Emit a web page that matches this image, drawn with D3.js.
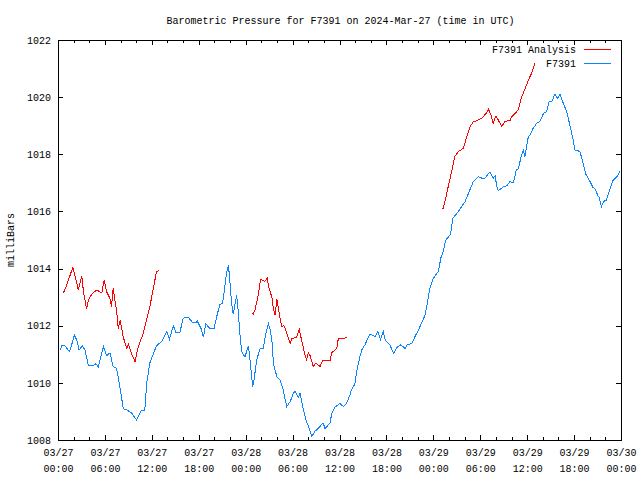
<!DOCTYPE html>
<html>
<head>
<meta charset="utf-8">
<script src="https://cdn.jsdelivr.net/npm/d3@7"></script>
<style>
  body { margin: 0; background: #fff; }
  text { font-family: "Liberation Mono", "DejaVu Sans Mono", monospace; font-size: 10px; fill: #000; }
</style>
</head>
<body>
<div id="chart"></div>
<script>
// hours after 2024-03-27 00:00 UTC, pressure in millibars
const stationHours = [0.25,0.5,0.9,1.3,1.5,2.1,2.4,2.7,3.1,3.45,3.9,4.5,4.85,5.15,5.8,6.2,6.65,7.05,7.5,7.9,
  8.35,8.8,9.4,10.05,10.7,11.1,11.35,11.75,12.6,13.25,13.9,14.25,14.75,15.1,15.6,16.0,16.65,17.25,17.65,17.8,
  18.3,18.6,18.9,19.45,19.95,20.3,20.7,21.05,21.35,21.55,21.8,22.0,22.2,22.4,22.6,22.85,23.05,23.3,23.5,23.9,
  24.35,24.55,24.9,25.05,25.4,25.85,26.25,26.45,26.9,27.1,27.35,27.55,28.0,28.4,28.8,29.25,29.7,30.1,30.3,30.75,
  30.95,31.35,31.7,32.0,32.45,32.85,33.5,33.9,34.15,34.8,35.0,35.4,36.05,36.5,36.9,37.35,37.5,37.95,38.2,38.6,
  38.85,39.25,39.9,40.55,40.9,41.25,41.6,41.85,42.45,42.9,43.3,43.75,44.15,44.4,44.65,45.25,45.65,46.1,46.5,46.95,
  47.3,47.55,48.0,48.65,48.95,49.25,49.6,50.2,50.5,51.2,52.05,52.45,53.1,53.75,54.35,54.6,55.25,55.65,55.9,56.1,
  56.3,56.9,57.4,57.8,58.25,58.6,58.9,59.2,59.5,59.7,60.15,60.4,60.75,61.2,61.6,62.1,62.5,62.8,63.15,63.55,
  63.9,64.2,64.6,65.05,65.45,65.85,66.1,66.75,67.2,67.5,68.05,68.4,68.65,69.05,69.2,69.5,69.8,70.15,70.6,71.0,
  71.45,71.9];
const stationPress = [1011.15,1011.3,1011.3,1011.15,1011.1,1011.67,1011.5,1011.15,1011.3,1011.15,1010.6,1010.6,1010.67,1010.55,1011.27,1010.95,1011.05,1010.57,1010.5,1009.87,
  1009.1,1009.05,1008.95,1008.7,1009.05,1009.05,1010.0,1010.7,1011.3,1011.45,1011.8,1011.52,1012.0,1011.75,1011.78,1012.26,1012.3,1012.1,1012.1,1012.17,
  1011.9,1011.6,1012.06,1011.9,1011.9,1012.32,1012.75,1012.78,1013.4,1013.86,1014.12,1013.5,1012.78,1012.4,1012.7,1013.07,1012.5,1011.6,1011.1,1010.9,
  1011.3,1010.8,1009.87,1010.05,1010.8,1011.2,1011.2,1011.55,1012.08,1011.9,1011.5,1010.68,1010.2,1010.1,1009.75,1009.17,1009.35,1009.63,1009.7,1009.5,
  1009.63,1009.1,1008.7,1008.5,1008.12,1008.3,1008.47,1008.6,1008.4,1008.6,1008.93,1009.15,1009.28,1009.17,1009.28,1009.58,1009.75,1009.95,1010.39,1010.92,
  1011.15,1011.33,1011.71,1011.62,1011.79,1011.52,1011.79,1011.5,1011.33,1011.03,1011.22,1011.33,1011.27,1011.2,1011.33,1011.38,1011.62,1011.85,1012.1,1012.37,
  1012.9,1013.3,1013.66,1013.9,1014.36,1014.6,1015.0,1015.2,1015.76,1016.0,1016.34,1016.6,1017.04,1017.21,1017.15,1017.16,1017.39,1017.15,1017.25,1016.9,
  1016.73,1016.85,1016.9,1017.05,1017.0,1017.45,1017.5,1017.9,1018.15,1017.9,1018.62,1018.68,1018.9,1019.08,1019.15,1019.43,1019.5,1019.85,1019.84,1020.11,
  1019.95,1020.11,1019.8,1019.5,1019.03,1018.55,1018.15,1018.1,1017.63,1017.3,1017.04,1016.85,1016.8,1016.55,1016.5,1016.17,1016.35,1016.4,1016.8,1017.1,
  1017.2,1017.43];

// analysis runs, one per day (null breaks the line)
const analysisHours = [0.7,1.15,1.9,2.3,2.6,3.05,3.25,3.65,3.9,4.3,4.95,5.6,5.9,6.2,6.65,6.85,7.05,7.5,7.7,7.95,
  8.35,8.8,9.0,9.4,9.85,10.25,10.9,11.75,12.6,12.95,null,
  24.75,24.95,25.2,25.6,25.9,26.45,26.75,27.0,27.35,27.55,27.75,28.0,28.25,28.6,28.9,29.25,29.7,29.9,30.5,30.85,
  31.15,31.6,31.8,32.0,32.25,32.65,33.0,33.5,33.9,34.8,35.0,35.65,35.85,36.7,37.0,null,
  49.05,49.25,49.7,49.9,50.35,50.75,51.2,51.85,52.25,52.7,53.1,53.75,54.2,54.8,55.05,55.35,55.65,56.0,56.3,56.75,
  57.15,57.8,58.0,58.45,58.85,59.3,59.75,60.15,60.6,61.0];
const analysisPress = [1013.15,1013.45,1014.05,1013.6,1013.25,1013.74,1013.2,1012.6,1012.9,1013.1,1013.25,1013.15,1013.6,1013.2,1012.95,1012.67,1013.3,1012.5,1011.9,1012.2,
  1011.6,1011.2,1011.35,1011.03,1010.74,1011.25,1011.73,1012.67,1013.9,1013.93,null,
  1012.46,1012.4,1012.55,1013.07,1013.62,1013.55,1013.66,1013.3,1013.0,1012.6,1012.37,1012.92,1012.5,1011.97,1012.0,1011.75,1011.38,1011.55,1011.6,1011.87,
  1011.5,1010.95,1010.8,1011.05,1010.95,1010.57,1010.7,1010.57,1010.8,1010.8,1011.05,1011.2,1011.55,1011.57,1011.6,null,
  1016.11,1016.11,1016.6,1016.87,1017.4,1017.92,1018.1,1018.21,1018.6,1018.97,1019.13,1019.2,1019.26,1019.45,1019.57,1019.4,1019.08,1019.34,1019.2,1018.97,
  1019.15,1019.18,1019.3,1019.43,1019.55,1020.01,1020.3,1020.6,1020.85,1021.2];

const yTicks = [1008, 1010, 1012, 1014, 1016, 1018, 1020, 1022];
const seriesNames = ["F7391 Analysis", "F7391"];
const seriesColors = ["#ff0000", "#0a84ff"];

const start = Date.UTC(2024, 2, 27);
const toDate = h => new Date(start + h * 3600e3);

const width = 640, height = 480;
const margin = { top: 40, right: 19, bottom: 40, left: 58 };
const x0 = margin.left, x1 = width - margin.right;
const y0 = margin.top, y1 = height - margin.bottom;

const svg = d3.select("#chart").append("svg")
  .attr("width", width)
  .attr("height", height);

const x = d3.scaleUtc()
  .domain([new Date(start), toDate(72)])
  .range([x0, x1]);
const y = d3.scaleLinear()
  .domain([1008, 1022])
  .range([y1, y0]);

const majorTicks = d3.utcHour.every(6).range(new Date(start), toDate(72.1));
const minorTicks = d3.utcHour.every(2).range(new Date(start), toDate(72.1));
const fmtDay = d3.utcFormat("%m/%d"), fmtTime = d3.utcFormat("%H:%M");

// bottom axis, labels on two lines
const bottom = svg.append("g")
  .attr("transform", `translate(0,${y1})`)
  .call(d3.axisBottom(x).tickValues(majorTicks).tickSize(-5).tickPadding(16).tickFormat(""));
bottom.selectAll(".tick text").each(function(d) {
  const t = d3.select(this);
  t.append("tspan").attr("x", 0).attr("dy", "0em").text(fmtDay(d));
  t.append("tspan").attr("x", 0).attr("dy", "1.6em").text(fmtTime(d));
});
svg.append("g")
  .attr("transform", `translate(0,${y1})`)
  .call(d3.axisBottom(x).tickValues(minorTicks).tickSize(-3).tickFormat(""));

// mirrored top ticks
svg.append("g")
  .attr("transform", `translate(0,${y0})`)
  .call(d3.axisTop(x).tickValues(majorTicks).tickSize(-5).tickFormat(""));
svg.append("g")
  .attr("transform", `translate(0,${y0})`)
  .call(d3.axisTop(x).tickValues(minorTicks).tickSize(-3).tickFormat(""));

svg.append("g")
  .attr("transform", `translate(${x0},0)`)
  .call(d3.axisLeft(y).tickValues(yTicks).tickSize(-5).tickPadding(7).tickFormat(d3.format("d")));
svg.append("g")
  .attr("transform", `translate(${x1},0)`)
  .call(d3.axisRight(y).tickValues(yTicks).tickSize(-5).tickFormat(""));

svg.selectAll(".domain").remove();
svg.selectAll(".tick line").attr("stroke", "#000").attr("shape-rendering", "crispEdges");
svg.selectAll(".tick text").attr("fill", "#000")
  .style("font-family", "'Liberation Mono', 'DejaVu Sans Mono', monospace").style("font-size", "10px");

svg.append("rect")
  .attr("x", x0).attr("y", y0)
  .attr("width", x1 - x0).attr("height", y1 - y0)
  .attr("fill", "none").attr("stroke", "#000")
  .attr("shape-rendering", "crispEdges");

const line = d3.line()
  .defined(d => d[1] != null)
  .x(d => x(toDate(d[0])))
  .y(d => y(d[1]));

svg.append("path")
  .datum(analysisHours.map((h, i) => [h, analysisPress[i]]))
  .attr("d", line)
  .attr("fill", "none")
  .attr("stroke", seriesColors[0])
  .attr("stroke-width", 1)
  .attr("shape-rendering", "crispEdges");

svg.append("path")
  .datum(stationHours.map((h, i) => [h, stationPress[i]]))
  .attr("d", line)
  .attr("fill", "none")
  .attr("stroke", seriesColors[1])
  .attr("stroke-width", 1)
  .attr("shape-rendering", "crispEdges");

// legend
const legend = svg.append("g");
seriesNames.forEach((name, i) => {
  const ly = 49 + i * 14;
  legend.append("text")
    .attr("x", 576).attr("y", ly)
    .attr("dy", "0.35em")
    .attr("text-anchor", "end")
    .text(name);
  legend.append("rect")
    .attr("x", 584).attr("y", ly)
    .attr("width", 27).attr("height", 1)
    .attr("fill", seriesColors[i]);
});

svg.append("text")
  .attr("x", (x0 + x1) / 2 + 1).attr("y", 20)
  .attr("dy", "0.35em")
  .attr("text-anchor", "middle")
  .text("Barometric Pressure for F7391 on 2024-Mar-27 (time in UTC)");

svg.append("text")
  .attr("transform", `translate(10,${(y0 + y1) / 2}) rotate(-90)`)
  .attr("dy", "0.35em")
  .attr("text-anchor", "middle")
  .text("milliBars");
</script>
</body>
</html>
